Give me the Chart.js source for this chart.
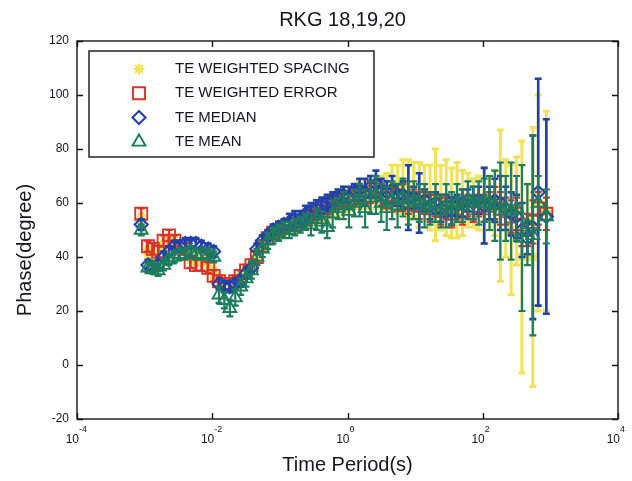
<!DOCTYPE html>
<html>
<head>
<meta charset="utf-8">
<script src="https://cdn.jsdelivr.net/npm/chart.js"></script>
<style>
  html, body { margin: 0; padding: 0; background: #ffffff; }
  canvas { display: block; }
</style>
</head>
<body>
<canvas id="phaseChart" width="632" height="481"></canvas>
<script>
// Time period of each estimate, seconds
const periods = [
  0.000891, 0.00112, 0.00132, 0.00158, 0.00191, 0.00229, 0.00275, 0.00331, 0.00398, 0.00479,
  0.00575, 0.00692, 0.00871, 0.0105, 0.0126, 0.0151, 0.0182, 0.0219, 0.0263, 0.0316,
  0.0380, 0.0457, 0.0550, 0.0661, 0.0794, 0.0955, 0.115, 0.138, 0.166, 0.200,
  0.240, 0.288, 0.347, 0.417, 0.501, 0.603, 0.724, 0.871, 1.05, 1.26,
  1.51, 1.82, 2.19, 2.63, 3.16, 3.80, 4.57, 5.50, 6.61, 7.94,
  9.55, 11.5, 13.8, 16.6, 20.0, 24.0, 28.8, 34.7, 41.7, 50.1,
  60.3, 72.4, 87.1, 105, 126, 151, 182, 219, 263, 316,
  380, 457, 550, 661, 871
];

// TE weighted spacing: phase (degree) and error half-width
const phaseSpacing = [
  54, 42, 41, 40, 44, 46, 45, 44, 43, 40,
  39, 39, 38, 34, 31, 30, 30, 31, 33, 35,
  37, 40, 44, 47, 49, 50, 51, 52, 52, 53,
  54, 55, 56, 57, 58, 59, 60, 61, 61, 62,
  63, 63, 64, 65, 64, 64, 66, 65, 66, 65,
  65, 63, 64, 62, 63, 62, 62, 60, 61, 60,
  61, 60, 60, 59, 60, 60, 59, 58, 50, 57,
  40, 53, 40, 60, 57
];
const errSpacing = [
  2, 2, 2, 2, 2, 2, 2, 2, 2, 2,
  2, 2, 2, 2, 2, 2, 2, 2, 2, 2,
  2, 2, 2, 2, 2, 3, 3, 3, 3, 3,
  3, 3, 4, 4, 4, 4, 5, 5, 4, 4,
  5, 5, 6, 5, 6, 7, 8, 9, 10, 11,
  10, 12, 10, 12, 17, 12, 14, 13, 14, 12,
  10, 9, 10, 14, 10, 12, 28, 18, 24, 20,
  43, 14, 48, 40, 37
];

// TE weighted error
const phaseError = [
  56, 44, 43, 42, 46, 48, 46, 44, 43, 38,
  37, 37, 36, 33, 31, 30, 30, 31, 33, 35,
  37, 40, 44, 47, 49, 50, 51, 52, 52, 53,
  54, 55, 56, 57, 58, 59, 60, 61, 61, 62,
  63, 62, 64, 65, 63, 62, 63, 61, 62, 60,
  61, 59, 60, 58, 59, 57, 58, 56, 58, 57,
  59, 58, 59, 58, 59, 60, 58, 57, 55, 56,
  52, 50, 53, 58, 56
];
const errError = [
  2, 2, 2, 2, 2, 2, 2, 2, 2, 2,
  2, 2, 2, 2, 2, 2, 2, 2, 2, 2,
  2, 2, 2, 2, 2, 2, 2, 2, 2, 2,
  2, 2, 2, 2, 2, 2, 2, 2, 3, 3,
  3, 3, 4, 3, 4, 4, 3, 4, 5, 4,
  4, 5, 4, 5, 4, 5, 4, 5, 4, 5,
  4, 5, 4, 5, 5, 6, 6, 5, 6, 6,
  8, 6, 8, 6, 6
];

// TE median
const phaseMedian = [
  52, 37, 36, 37, 40, 42, 44, 44, 45, 45,
  45, 44, 43, 42, 30, 29, 29, 30, 31, 34,
  36, 43, 46, 48, 50, 51, 52, 53, 54, 54,
  56, 57, 58, 59, 60, 61, 62, 63, 62, 64,
  65, 64, 66, 67, 65, 64, 65, 63, 63, 62,
  62, 60, 61, 59, 60, 58, 59, 57, 59, 60,
  61, 60, 61, 59, 60, 61, 60, 58, 56, 55,
  50, 47, 51, 64, 55
];
const errMedian = [
  2, 2, 2, 2, 2, 2, 2, 2, 2, 2,
  2, 2, 2, 2, 2, 2, 2, 2, 2, 2,
  2, 2, 2, 2, 2, 2, 2, 3, 3, 3,
  3, 3, 3, 3, 3, 3, 3, 3, 4, 3,
  4, 5, 4, 5, 4, 4, 5, 4, 5, 12,
  4, 11, 4, 5, 4, 5, 4, 5, 4, 5,
  4, 6, 5, 14, 6, 8, 10, 8, 8, 8,
  10, 6, 34, 42, 36
];

// TE mean
const phaseMean = [
  50, 36, 36, 35, 37, 39, 40, 41, 41, 42,
  41, 41, 41, 40, 26, 24, 21, 25, 29, 32,
  35, 40, 43, 46, 48, 49, 50, 50, 51, 52,
  53, 52, 54, 53, 51, 56, 58, 59, 57, 60,
  61, 58, 62, 63, 60, 58, 61, 59, 62, 60,
  61, 60, 59, 58, 60, 57, 59, 58, 60, 59,
  61, 60, 60, 61, 60, 59, 57, 58, 57, 58,
  47, 52, 48, 60, 55
];
const errMean = [
  2, 2, 2, 2, 2, 2, 2, 2, 2, 2,
  2, 2, 2, 2, 3, 3, 3, 3, 3, 3,
  3, 3, 3, 3, 3, 3, 3, 3, 3, 3,
  3, 4, 4, 4, 4, 5, 4, 5, 6, 5,
  6, 7, 6, 7, 7, 8, 7, 8, 7, 8,
  7, 7, 8, 6, 7, 6, 8, 6, 7, 6,
  7, 6, 8, 8, 10, 13, 18, 12, 18, 12,
  27, 15, 37, 10, 10
];

// Axis ticks
const xTickValues = [1e-4, 1e-2, 1, 1e2, 1e4];
const xTickExponents = ['-4', '-2', '0', '2', '4'];
const yTickValues = [-20, 0, 20, 40, 60, 80, 100, 120];

const seriesLabels = ['TE WEIGHTED SPACING', 'TE WEIGHTED ERROR', 'TE MEDIAN', 'TE MEAN'];

const FONT = '"Liberation Sans", Arial, Helvetica, sans-serif';
const INK = '#15151d';
const CAP = 3.5;

const styles = [
  { color: '#f1e355', pointStyle: 'star',     radius: 5.5, width: 2.2, barWidth: 3.0, order: 4 },
  { color: '#dc3327', pointStyle: 'rect',     radius: 8.5, width: 1.9, barWidth: 2.2, order: 3 },
  { color: '#2140ad', pointStyle: 'rectRot',  radius: 6.5, width: 2.1, barWidth: 2.6, order: 2 },
  { color: '#1d7d5c', pointStyle: 'triangle', radius: 7.5, width: 1.9, barWidth: 2.2, order: 1 }
];

function toPoints(values, errs) {
  return periods.map((p, i) => ({ x: p, y: values[i], err: errs[i] }));
}

const seriesData = [
  toPoints(phaseSpacing, errSpacing),
  toPoints(phaseError, errError),
  toPoints(phaseMedian, errMedian),
  toPoints(phaseMean, errMean)
];

const datasets = seriesData.map((pts, i) => ({
  label: seriesLabels[i],
  data: pts,
  order: styles[i].order,
  showLine: false,
  pointStyle: styles[i].pointStyle,
  pointRadius: styles[i].radius,
  pointHoverRadius: styles[i].radius,
  pointBorderWidth: styles[i].width,
  borderColor: styles[i].color,
  backgroundColor: 'rgba(0,0,0,0)',
  barColor: styles[i].color,
  barWidth: styles[i].barWidth
}));

// Vertical error bars with caps, drawn under each series' markers
const errorBarPlugin = {
  id: 'errorBars',
  beforeDatasetDraw(chart, args) {
    const ds = chart.data.datasets[args.index];
    const xs = chart.scales.x, ys = chart.scales.y;
    const ctx = chart.ctx;
    const a = chart.chartArea;
    ctx.save();
    ctx.beginPath();
    ctx.rect(a.left, a.top, a.right - a.left, a.bottom - a.top);
    ctx.clip();
    ctx.strokeStyle = ds.barColor;
    ctx.lineWidth = ds.barWidth;
    ctx.lineCap = 'butt';
    ctx.beginPath();
    ds.data.forEach(d => {
      const px = xs.getPixelForValue(d.x);
      const top = ys.getPixelForValue(d.y + d.err);
      const bot = ys.getPixelForValue(d.y - d.err);
      ctx.moveTo(px, top); ctx.lineTo(px, bot);
      ctx.moveTo(px - CAP, top); ctx.lineTo(px + CAP, top);
      ctx.moveTo(px - CAP, bot); ctx.lineTo(px + CAP, bot);
    });
    ctx.stroke();
    ctx.restore();
  }
};

function drawMarker(ctx, style, x, y) {
  ctx.save();
  ctx.strokeStyle = style.color;
  ctx.fillStyle = 'rgba(0,0,0,0)';
  ctx.lineWidth = style.width;
  if (Chart.helpers && Chart.helpers.drawPoint) {
    Chart.helpers.drawPoint(ctx, {
      pointStyle: style.pointStyle, radius: style.radius, rotation: 0, borderWidth: style.width
    }, x, y);
  }
  ctx.restore();
}

// Frame, inward ticks, tick labels, titles and the boxed legend
const framePlugin = {
  id: 'frame',
  afterDraw(chart) {
    const ctx = chart.ctx;
    const a = chart.chartArea;
    const xs = chart.scales.x, ys = chart.scales.y;
    ctx.save();
    ctx.strokeStyle = INK;
    ctx.lineWidth = 1.4;
    ctx.strokeRect(a.left, a.top, a.right - a.left, a.bottom - a.top);

    const TL = 6;
    ctx.beginPath();
    xTickValues.forEach(v => {
      const px = Math.round(xs.getPixelForValue(v)) + 0.5;
      ctx.moveTo(px, a.bottom); ctx.lineTo(px, a.bottom - TL);
      ctx.moveTo(px, a.top); ctx.lineTo(px, a.top + TL);
    });
    yTickValues.forEach(v => {
      const py = Math.round(ys.getPixelForValue(v)) + 0.5;
      ctx.moveTo(a.left, py); ctx.lineTo(a.left + TL, py);
      ctx.moveTo(a.right, py); ctx.lineTo(a.right - TL, py);
    });
    ctx.stroke();

    ctx.fillStyle = INK;
    // y tick labels
    ctx.font = '12px ' + FONT;
    ctx.textAlign = 'right';
    ctx.textBaseline = 'middle';
    yTickValues.forEach(v => {
      ctx.fillText(String(v), a.left - 8, ys.getPixelForValue(v));
    });
    // x tick labels: 10 with a raised exponent
    xTickValues.forEach((v, i) => {
      const px = xs.getPixelForValue(v);
      ctx.font = '12px ' + FONT;
      ctx.textAlign = 'right';
      ctx.textBaseline = 'middle';
      ctx.fillText('10', px + 2, a.bottom + 21);
      ctx.font = '9px ' + FONT;
      ctx.textAlign = 'left';
      ctx.fillText(xTickExponents[i], px + 2, a.bottom + 11);
    });

    // titles
    ctx.textAlign = 'center';
    ctx.textBaseline = 'middle';
    ctx.font = '20px ' + FONT;
    ctx.fillText('RKG 18,19,20', (a.left + a.right) / 2 - 5, 20);
    ctx.fillText('Time Period(s)', (a.left + a.right) / 2, 465);
    ctx.save();
    ctx.translate(25, 250);
    ctx.rotate(-Math.PI / 2);
    ctx.fillText('Phase(degree)', 0, 0);
    ctx.restore();

    // legend
    const lx = a.left + 12, ly = a.top + 10, lw = 285, lh = 106;
    ctx.fillStyle = '#ffffff';
    ctx.fillRect(lx, ly, lw, lh);
    ctx.strokeStyle = INK;
    ctx.lineWidth = 1.4;
    ctx.strokeRect(lx, ly, lw, lh);
    ctx.font = '15px ' + FONT;
    ctx.textAlign = 'left';
    ctx.textBaseline = 'middle';
    seriesLabels.forEach((label, i) => {
      const ry = ly + 18 + i * 24.3;
      drawMarker(ctx, styles[i], lx + 50, ry);
      ctx.fillStyle = INK;
      ctx.fillText(label, lx + 86, ry);
    });
    ctx.restore();
  }
};

new Chart(document.getElementById('phaseChart'), {
  type: 'scatter',
  data: { datasets },
  options: {
    responsive: false,
    animation: false,
    events: [],
    layout: { padding: { left: 77, right: 14, top: 41, bottom: 62 } },
    plugins: { legend: { display: false }, tooltip: { enabled: false }, title: { display: false } },
    scales: {
      x: { type: 'logarithmic', min: 1e-4, max: 1e4, display: false },
      y: { type: 'linear', min: -20, max: 120, display: false }
    }
  },
  plugins: [errorBarPlugin, framePlugin]
});
</script>
</body>
</html>
